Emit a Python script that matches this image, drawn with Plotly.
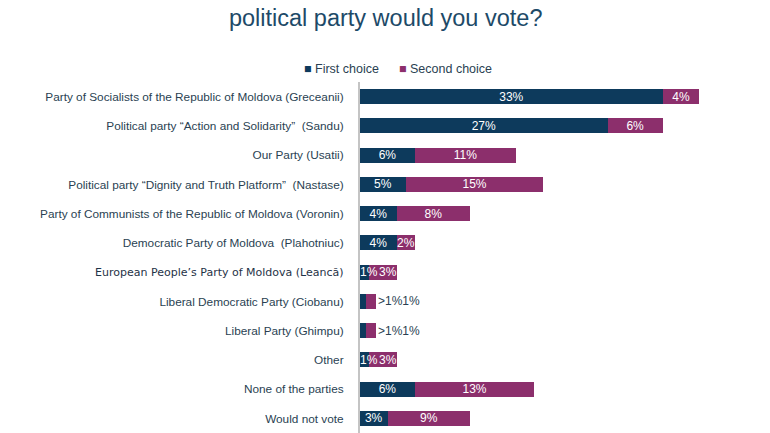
import plotly.graph_objects as go

# poll results, top to bottom as shown
parties = [
    "Party of Socialists of the Republic of Moldova (Greceanii)",
    "Political party \u201cAction and Solidarity\u201d  (Sandu)",
    "Our Party (Usatii)",
    "Political party \u201cDignity and Truth Platform\u201d  (Nastase)",
    "Party of Communists of the Republic of Moldova (Voronin)",
    "Democratic Party of Moldova  (Plahotniuc)",
    "European People\u2019s Party of Moldova (Leanc\u0103)",
    "Liberal Democratic Party (Ciobanu)",
    "Liberal Party (Ghimpu)",
    "Other",
    "None of the parties",
    "Would not vote",
]
first_choice = [33, 27, 6, 5, 4, 4, 1, 0.7, 0.7, 1, 6, 3]
second_choice = [4, 6, 11, 15, 8, 2, 3, 1, 1, 3, 13, 9]
first_labels = ["33%", "27%", "6%", "5%", "4%", "4%", "1%", ">1%", ">1%", "1%", "6%", "3%"]
second_labels = ["4%", "6%", "11%", "15%", "8%", "2%", "3%", "1%", "1%", "3%", "13%", "9%"]
series_names = ["First choice", "Second choice"]
title_text = ("If the parliamentary elections were held next Sunday, for which<br>"
              "political party would you vote?")

NAVY = "#0d3a5c"
PLUM = "#8c2f6c"
LABEL = "#2a3f52"
FONT = "Liberation Sans"

# thin stacks get their labels written after the bar;
# thin first-choice bars get both labels placed side by side
too_small = [a + b < 2 for a, b in zip(first_choice, second_choice)]
thin_first = [a < 2 and not s for a, s in zip(first_choice, too_small)]

tick_text = []
for p in parties:
    if "European" in p:
        tick_text.append('<span style="font-family:\'DejaVu Sans\';font-size:11px;color:#1f3347">' + p + "</span>")
    else:
        tick_text.append(p)

bar_font = dict(color="white", size=12, family=FONT)

fig = go.Figure()
fig.add_trace(go.Bar(
    y=parties, x=first_choice, orientation="h", name=series_names[0],
    marker=dict(color=NAVY, line=dict(width=0)),
    text=["" if (s or t2) else t for t, s, t2 in zip(first_labels, too_small, thin_first)],
    textposition="inside", insidetextanchor="middle", textangle=0,
    constraintext="none", textfont=bar_font, width=0.52,
))
fig.add_trace(go.Bar(
    y=parties, x=second_choice, orientation="h", name=series_names[1],
    marker=dict(color=PLUM, line=dict(width=0)),
    text=["" if (s or t2) else t for t, s, t2 in zip(second_labels, too_small, thin_first)],
    textposition="inside", insidetextanchor="middle", textangle=0,
    constraintext="none", textfont=bar_font, width=0.52,
))

for p, a, b, la, lb, s, tf in zip(parties, first_choice, second_choice,
                                  first_labels, second_labels, too_small, thin_first):
    if s:
        fig.add_annotation(x=a + b, y=p, text=la + lb, showarrow=False,
                           xanchor="left", font=dict(color=LABEL, size=12, family=FONT))
    elif tf:
        fig.add_annotation(x=0, y=p, text=la, showarrow=False, xanchor="left",
                           xshift=-1, borderpad=0, font=bar_font)
        fig.add_annotation(x=a, y=p, text=lb, showarrow=False, xanchor="left",
                           xshift=9, borderpad=0, font=bar_font)

# legend drawn as text so the spacing matches the original
for name, col, lx in zip(series_names, [NAVY, PLUM], [-0.145, 0.0925]):
    fig.add_annotation(
        xref="paper", yref="paper", x=lx, y=1.037, xanchor="left", yanchor="middle",
        text=f'<span style="color:{col}">\u25a0</span> {name}', showarrow=False,
        font=dict(size=12.5, color=LABEL, family=FONT),
    )

# title: first line runs off the top of the page, as in the original
fig.add_annotation(
    xref="paper", yref="paper", x=(385 - 8 - 352) / 400, y=1.1396,
    xanchor="center", yanchor="bottom", text=title_text, showarrow=False,
    font=dict(size=23.5, color="#1d4a68", family=FONT),
)

fig.update_layout(
    barmode="stack",
    width=770, height=433,
    paper_bgcolor="white", plot_bgcolor="white",
    margin=dict(l=352, r=18, t=74, b=8),
    showlegend=False,
    xaxis=dict(range=[0, 43.6], visible=False, fixedrange=True),
    yaxis=dict(
        autorange="reversed", tickvals=parties, ticktext=tick_text,
        showline=True, linecolor="#c4c4c4", linewidth=2,
        ticks="", ticklabelstandoff=12, showgrid=False,
        tickfont=dict(size=11.8, color=LABEL, family=FONT),
    ),
)

fig.write_html("out.html")
